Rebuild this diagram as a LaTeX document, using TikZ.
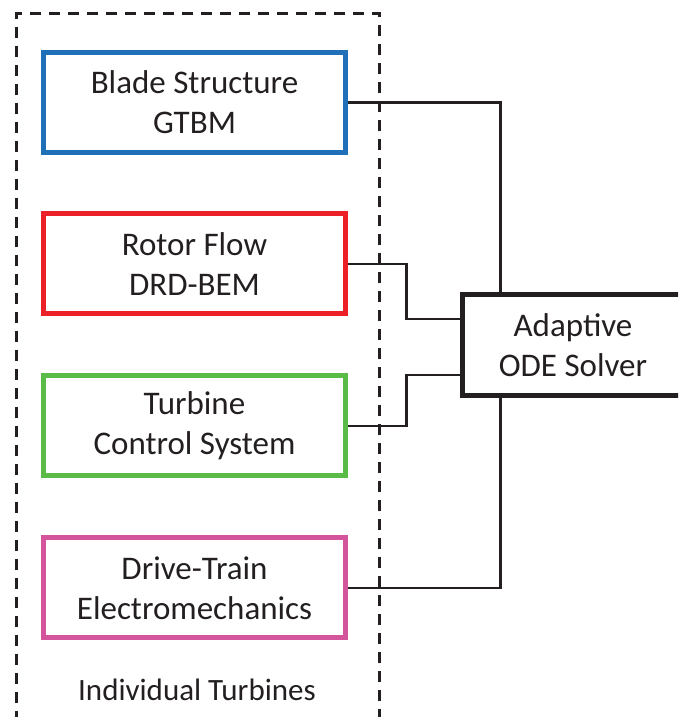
\documentclass[tikz,border=0pt]{standalone}
\usepackage{fontspec}
\setmainfont{Carlito}
\definecolor{ink}{HTML}{231F20}
\definecolor{cblue}{HTML}{1F6FB9}
\definecolor{cred}{HTML}{EC2027}
\definecolor{cgreen}{HTML}{5BBB47}
\definecolor{cpink}{HTML}{D5559D}
\tikzset{
  modbox/.style={draw, line width=5pt, minimum width=302pt, minimum height=100pt,
    align=center, text=ink, inner sep=0pt, font=\fontsize{33}{40}\selectfont},
  solverbox/.style={draw=ink, line width=5pt, minimum width=221pt, minimum height=101pt,
    align=center, text=ink, inner sep=0pt, font=\fontsize{33}{40}\selectfont},
  link/.style={draw=ink, line width=2.6pt},
  groupbox/.style={draw=ink, line width=3pt, dash pattern=on 11pt off 8pt,
    minimum width=363.5pt, minimum height=723pt, inner sep=0pt},
}
\begin{document}
\begin{tikzpicture}[x=1pt,y=1pt]
\useasboundingbox (0,0) rectangle (678,717);
\clip (0,0) rectangle (678,717);
\node[groupbox] (group) at (197.75,341.5) {};
\node[text=ink, font=\fontsize{31}{37}\selectfont] (grouplabel) at (197,27) {Individual Turbines};
\node[modbox, draw=cblue] (blade) at (194.5,614.5) {Blade Structure\\GTBM};
\node[modbox, draw=cred] (rotor) at (194.5,453) {Rotor Flow\\DRD-BEM};
\node[modbox, draw=cgreen] (control) at (194.5,291) {Turbine\\Control System};
\node[modbox, draw=cpink] (drive) at (194.5,129) {Drive-Train\\Electromechanics};
\node[solverbox] (ode) at (573,372) {Adaptive\\ODE Solver};
\path (ode.north west) ++(40.5,0) coordinate (otop);
\path (ode.south west) ++(40.5,0) coordinate (obot);
\path (ode.west) ++(0,26) coordinate (oin1);
\path (ode.west) ++(0,-30) coordinate (oin2);
\draw[link] (blade.east) -| (otop);
\draw[link] (drive.east) -| (obot);
\draw[link] (rotor.east) -- ++(58.5,0) |- (oin1);
\draw[link] (control.east) -- ++(58.5,0) |- (oin2);
\end{tikzpicture}
\end{document}
